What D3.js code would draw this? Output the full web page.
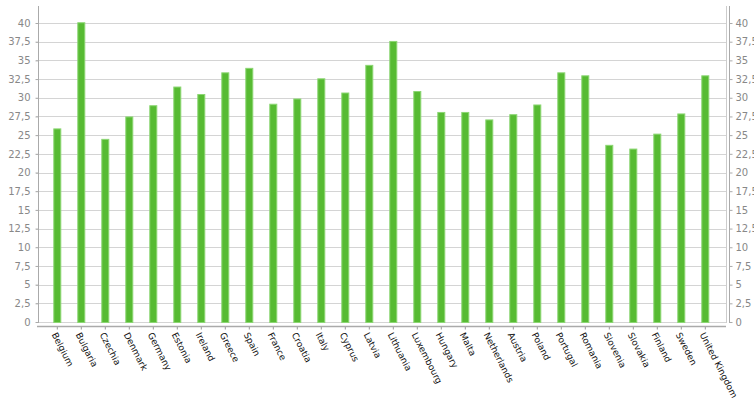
<!DOCTYPE html>
<html>
<head>
<meta charset="utf-8">
<script src="https://cdn.jsdelivr.net/npm/d3@7"></script>
<style>
  html, body { margin: 0; padding: 0; background: #fff; }
  svg { display: block; }
</style>
</head>
<body>
<svg id="chart" width="754" height="400"></svg>
<script>
const categories = ["Belgium","Bulgaria","Czechia","Denmark","Germany","Estonia","Ireland","Greece","Spain","France","Croatia","Italy","Cyprus","Latvia","Lithuania","Luxembourg","Hungary","Malta","Netherlands","Austria","Poland","Portugal","Romania","Slovenia","Slovakia","Finland","Sweden","United Kingdom"];
const values = [25.9,40.1,24.5,27.5,29.0,31.5,30.5,33.4,34.0,29.2,29.9,32.6,30.7,34.4,37.6,30.9,28.1,28.1,27.1,27.8,29.1,33.4,33.0,23.7,23.2,25.2,27.9,33.0];
const tickValues = [0,2.5,5,7.5,10,12.5,15,17.5,20,22.5,25,27.5,30,32.5,35,37.5,40];
const tickLabels = ["0","2,5","5","7,5","10","12,5","15","17,5","20","22,5","25","27,5","30","32,5","35","37,5","40"];

(function () {
const svg = d3.select("#chart");
const plotLeft = 38, plotRight = 726, plotTop = 6, zeroY = 322;

const y = d3.scaleLinear().domain([0, 40]).range([zeroY, 23]);
const x = d3.scaleBand().domain(categories).range([45.3, 717.3])
  .paddingInner(2/3).paddingOuter(1/3);

// gridlines
svg.append("g").selectAll("line").data(tickValues).join("line")
  .attr("x1", plotLeft - 2).attr("x2", plotRight)
  .attr("y1", d => Math.round(y(d)) + 0.5).attr("y2", d => Math.round(y(d)) + 0.5)
  .attr("stroke", "#d4d4d4").attr("stroke-width", 1);

// left axis
const leftAxis = d3.axisLeft(y).tickValues(tickValues)
  .tickFormat((d, i) => tickLabels[i]).tickSize(3).tickPadding(5);
const gl = svg.append("g").attr("transform", `translate(${plotLeft + 0.5},0)`).call(leftAxis);
gl.select(".domain").remove();
gl.append("line").attr("x1", 0).attr("x2", 0).attr("y1", plotTop).attr("y2", zeroY + 1).attr("stroke", "#aaa");

// right axis
const rightAxis = d3.axisRight(y).tickValues(tickValues)
  .tickFormat((d, i) => tickLabels[i]).tickSize(3).tickPadding(3);
const gr = svg.append("g").attr("transform", `translate(729.5,0)`).call(rightAxis);
gr.select(".domain").remove();
gr.append("line").attr("x1", 0).attr("x2", 0).attr("y1", plotTop).attr("y2", zeroY + 1).attr("stroke", "#aaa");
// plot right border
svg.append("line").attr("x1", plotRight + 0.5).attr("x2", plotRight + 0.5).attr("y1", plotTop).attr("y2", zeroY + 1).attr("stroke", "#ccc");

[gl, gr].forEach(g => {
  g.selectAll(".tick line").attr("stroke", "#aaa");
  g.selectAll(".tick text").attr("fill", "#888").style("font-family", "DejaVu Sans, Verdana, sans-serif").style("font-size", "10px");
});

// bars
svg.append("g").selectAll("rect").data(values).join("rect")
  .attr("x", (d, i) => x(categories[i]) + 0.5)
  .attr("width", x.bandwidth() - 1)
  .attr("y", d => y(d) + 0.5)
  .attr("height", d => zeroY - y(d))
  .attr("fill", "#57bb33")
  .attr("stroke", "#8cd673").attr("stroke-width", 1);

// x axis
const xAxisY = 326;
const xAxis = d3.axisBottom(x).tickSize(3).tickFormat("");
const gx = svg.append("g").attr("transform", `translate(0,${xAxisY + 0.5})`).call(xAxis);
gx.select(".domain").remove();
gx.append("line").attr("x1", plotLeft - 1).attr("x2", plotRight).attr("y1", 0).attr("y2", 0).attr("stroke", "#aaa").attr("stroke-width", 1.5);
gx.selectAll(".tick line").attr("stroke", "#999");

// x labels
svg.append("g").selectAll("text").data(categories).join("text")
  .attr("transform", d => `translate(${x(d) + x.bandwidth() / 2 - 3},${xAxisY + 7}) rotate(63)`)
  .attr("text-anchor", "start")
  .attr("dy", "0.35em")
  .style("font-family", "DejaVu Sans, Verdana, sans-serif")
  .style("font-size", "9px")
  .attr("fill", "#111")
  .text(d => d);
})();
</script>
</body>
</html>
